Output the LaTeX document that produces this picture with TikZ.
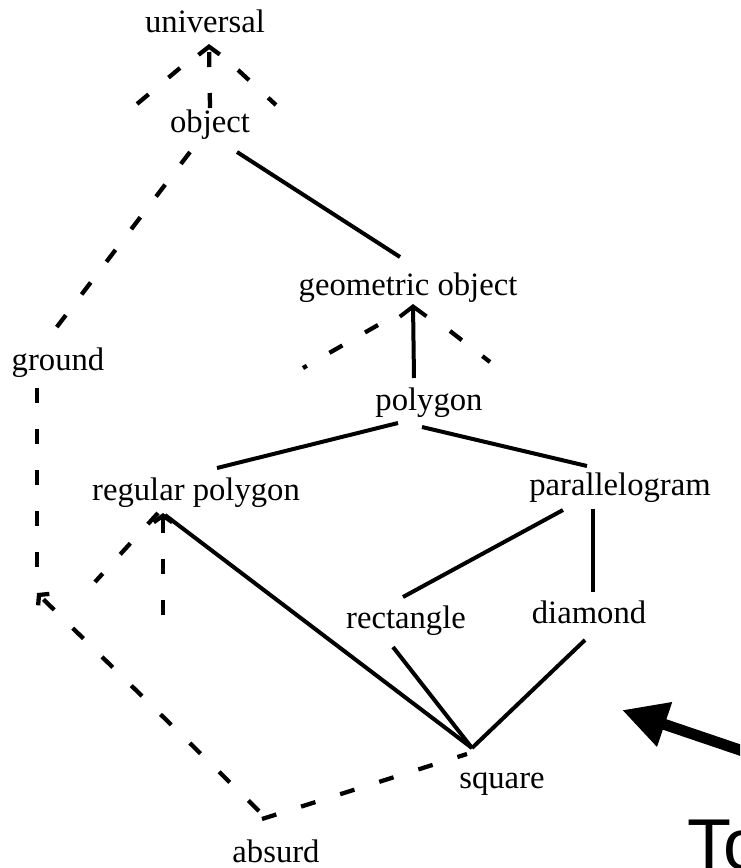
\documentclass[tikz,border=0pt]{standalone}
\usepackage{fontspec}
\setmainfont{Liberation Serif}
\newfontfamily\calloutfont{Liberation Sans}
\usetikzlibrary{arrows.meta}

\begin{document}
\begin{tikzpicture}[x=0.75pt,y=-0.75pt,
  concept/.style={inner sep=0pt, anchor=base, font=\fontsize{24.5}{29}\selectfont},
  link/.style={line width=3pt},
  weak/.style={line width=3.2pt, dash pattern=on 11.25pt off 19.5pt},
  pointer/.style={line width=8.25pt, -{Triangle[length=33.75pt,width=33pt]}}
]
\fill[white] (0,0) rectangle (740,868);
\clip (0,0) rectangle (740,868);

% concepts of the lattice
\node[concept] (uni)  at (205,32)  {universal};
\node[concept] (obj)  at (210,132) {object};
\node[concept] (geo)  at (408,295) {geometric object};
\node[concept] (poly) at (429,410) {polygon};
\node[concept] (gnd)  at (58,370)  {ground};
\node[concept] (reg)  at (196,500) {regular polygon};
\node[concept] (par)  at (620,495) {parallelogram};
\node[concept] (rect) at (406,628) {rectangle};
\node[concept] (dia)  at (589,623) {diamond};
\node[concept] (sq)   at (502,788) {square};
\node[concept] (abs)  at (276,862) {absurd};

% free ends of the partial links
\coordinate (ua) at (180,68);  \coordinate (ub) at (137,104);
\coordinate (uc) at (238,70);  \coordinate (ud) at (276,105);
\coordinate (ga) at (378,325); \coordinate (gb) at (303,368);
\coordinate (gc) at (450,331); \coordinate (gd) at (490,362);
\coordinate (ra) at (163,615); \coordinate (rc) at (95,582);
\coordinate (gz) at (37,570);  \coordinate (gy) at (37,593);
\coordinate (ptr) at (622,710); \coordinate (ptrtail) at (790,767);

% top of the lattice
\draw[weak,-{Straight Barb[length=6pt,width=16pt]}]
  ([shift={(0,-24)}]obj.base) -- ([shift={(4,12)}]uni.base);
\draw[weak] (ua) -- (ub);
\draw[weak] (uc) -- (ud);
\draw[weak] ([shift={(-20,20)}]obj.base) -- ([shift={(-5,-38)}]gnd.base);
\draw[link] ([shift={(27,20)}]obj.base) -- ([shift={(-8,-38)}]geo.base);

% geometric object and polygon
\draw[link,-{Straight Barb[length=7.5pt,width=20pt]}]
  ([shift={(-15,-32)}]poly.base) -- ([shift={(5,9)}]geo.base);
\draw[weak] (ga) -- (gb);
\draw[weak] (gc) -- (gd);
\draw[link] ([shift={(-31,13)}]poly.base) -- ([shift={(21,-32)}]reg.base);
\draw[link] ([shift={(-7,17)}]poly.base) -- ([shift={(-33,-29)}]par.base);

% regular polygon
\draw[weak,-{Straight Barb[length=5pt,width=14pt]}] (ra) -- ([shift={(-33,13)}]reg.base);
\draw[weak] ([shift={(-38,13)}]reg.base) -- (rc);
\draw[link] ([shift={(-31,15)}]reg.base) -- ([shift={(-30,-40)}]sq.base);

% parallelogram branch
\draw[link] ([shift={(-57,15)}]par.base) -- ([shift={(-3,-31)}]rect.base);
\draw[link] ([shift={(-27,14)}]par.base) -- ([shift={(4,-31)}]dia.base);
\draw[link] ([shift={(-13,19)}]rect.base) -- ([shift={(-30,-40)}]sq.base);
\draw[link] ([shift={(-4,17)}]dia.base) -- ([shift={(-30,-40)}]sq.base);

% ground and absurd
\draw[weak] ([shift={(-21,18)}]gnd.base) -- (gz);
\draw[weak,-{Straight Barb[length=5pt,width=12pt]}] ([shift={(-17,-51)}]abs.base) -- (gy);
\draw[weak] ([shift={(-14,-43)}]abs.base) -- ([shift={(-35,-34)}]sq.base);

% callout
\draw[pointer] (ptrtail) -- (ptr);
\node[font=\calloutfont\fontsize{54}{60}\selectfont, inner sep=0pt, anchor=base west]
  (lbl) at (687,869) {To};
\end{tikzpicture}
\end{document}
